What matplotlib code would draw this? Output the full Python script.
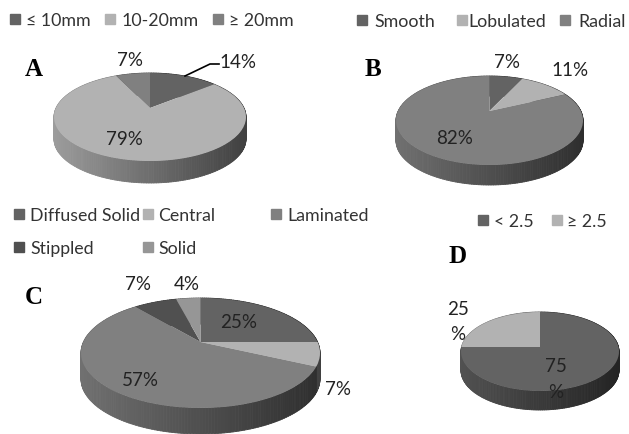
import numpy as np
import matplotlib
matplotlib.use('Agg')
import matplotlib.pyplot as plt
from matplotlib.collections import PolyCollection
from matplotlib.patches import Rectangle
from matplotlib.transforms import Transform

plt.rcParams['font.family'] = ['Lato', 'DejaVu Sans']

# Data
values_a = [14, 79, 7]
values_b = [7, 11, 82]
values_c = [25, 7, 57, 7, 4]
values_d = [75, 25]

legend_a = ['≤ 10mm', '10-20mm', '≥ 20mm']
legend_b = ['Smooth', 'Lobulated', 'Radial']
legend_c = ['Diffused Solid', 'Central', 'Laminated', 'Stippled', 'Solid']
legend_d = ['< 2.5', '≥ 2.5']

grays_ab = ['#636363', '#b2b2b2', '#808080']
grays_c = ['#636363', '#b2b2b2', '#808080', '#505050', '#969696']
grays_d = ['#636363', '#b2b2b2']


# Maps the unit circle of a pie to a tilted disc in pixel coordinates
class TiltedDisc(Transform):
    input_dims = 2
    output_dims = 2

    def __init__(self, cx, cy, rx, ry, k):
        super().__init__()
        self.cx, self.cy, self.rx, self.ry, self.k = cx, cy, rx, ry, k

    def transform_non_affine(self, pts):
        pts = np.asarray(pts)
        w = 1 + self.k * pts[:, 1]
        return np.column_stack((self.cx + self.rx * pts[:, 0] / w,
                                self.cy - self.ry * pts[:, 1] / w))


def draw_pie(ax, values, colors, cx, cy, half_w, up, down, depth, dark=0.0):
    k = (down - up) / (down + up)
    ry = up * (1 + k)
    rx = half_w * np.sqrt(1 - k ** 2)
    disc = TiltedDisc(cx, cy, rx, ry, k)

    # side wall, shaded from left to right
    quads, shades, order = [], [], []
    start = 90.0
    for val, col in zip(values, colors):
        end = start - val * 3.6
        steps = np.radians(np.linspace(start, end, max(int(val * 3), 3)))
        top = disc.transform_non_affine(np.column_stack((np.cos(steps), np.sin(steps))))
        base = np.array(matplotlib.colors.to_rgb(col))
        for i in range(len(steps) - 1):
            low = top[[i + 1, i]] + [0, depth]
            quads.append(np.vstack((top[i], top[i + 1], low)))
            u = (top[i, 0] - cx + half_w) / (2 * half_w)
            shades.append(base * (0.88 - dark - (0.52 - dark) * u))
            order.append(top[i, 1])
        start = end
    # back of the disc first so the front wall stays on top
    idx = np.argsort(order)
    ax.add_collection(PolyCollection([quads[i] for i in idx],
                                     facecolors=[shades[i] for i in idx],
                                     edgecolors=[shades[i] for i in idx],
                                     linewidths=0.6, zorder=1))

    # top face
    wedges, _ = ax.pie(values, colors=colors, startangle=90, counterclock=False)
    for wedge in wedges:
        wedge.set_transform(disc + ax.transData)
        wedge.set_zorder(2)
        wedge.set_clip_on(False)


def draw_legend(ax, labels, colors, spots):
    for lab, col, (x, y, tx) in zip(labels, colors, spots):
        ax.add_patch(Rectangle((x, y - 5), 10, 10, color=col, zorder=3))
        ax.text(tx, y + 1, lab, fontsize=12.8, color='#333333', va='center', ha='left')


fig = plt.figure(figsize=(6.29, 4.35), dpi=100)
ax = fig.add_axes([0, 0, 1, 1])

draw_pie(ax, values_a, grays_ab, 150, 109, 96, 35, 53, 22)
draw_pie(ax, values_b, grays_ab, 489.5, 112, 93.5, 35, 54, 20)
draw_pie(ax, values_c, grays_c, 200.5, 343, 119.5, 44, 66, 26)
draw_pie(ax, values_d, grays_d, 540, 348, 79, 35, 44, 19, dark=0.06)

ax.set_xlim(0, 629)
ax.set_ylim(435, 0)
ax.set_aspect('auto')
ax.axis('off')

draw_legend(ax, legend_a, grays_ab, [(10, 20, 26), (105, 20, 122), (213, 20, 229)])
draw_legend(ax, legend_b, grays_ab, [(357, 21, 374), (457, 21, 468), (560, 21, 578)])
draw_legend(ax, legend_c, grays_c, [(14, 215, 30), (143, 215, 158), (271, 215, 287),
                                    (14, 248, 30), (143, 248, 158)])
draw_legend(ax, legend_d, grays_d, [(478, 221, 494), (552, 221, 567)])

for letter, x, y in [('A', 34, 69), ('B', 373, 69), ('C', 34, 298), ('D', 458, 257)]:
    ax.text(x, y, letter, family='Liberation Serif', weight='bold', fontsize=18,
            ha='center', va='center', color='black')

# Percentage labels
labels = [('14%', 238, 62), ('7%', 130, 60), ('79%', 124, 140),
          ('7%', 507, 62), ('11%', 570, 70), ('82%', 455, 139),
          ('7%', 138, 285), ('4%', 187, 285), ('25%', 239, 323),
          ('57%', 140, 381), ('7%', 338, 390),
          ('25', 458, 310), ('%', 458, 335), ('75', 556, 367), ('%', 556, 393)]
for txt, x, y in labels:
    ax.text(x, y, txt, fontsize=13.5, ha='center', va='center', color='#222222', zorder=5)

# Leader line for the 14% slice
ax.plot([185, 210, 219], [77, 65, 65], color='black', lw=1.2, zorder=4)

fig.savefig('out.png', dpi=100)
